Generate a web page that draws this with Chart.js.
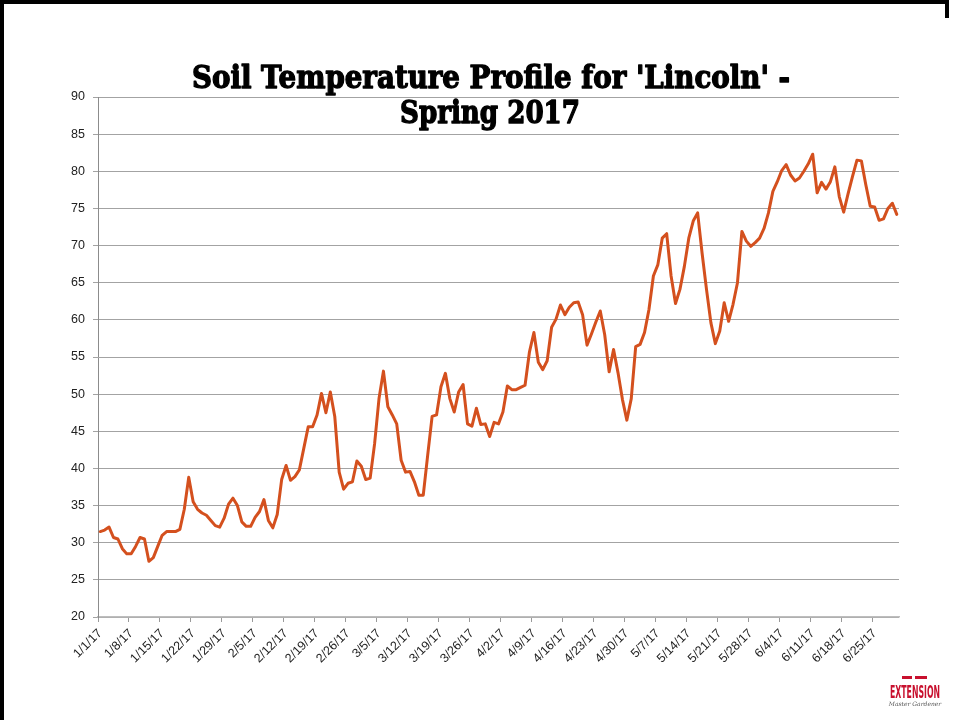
<!DOCTYPE html>
<html>
<head>
<meta charset="utf-8">
<script src="https://cdn.jsdelivr.net/npm/chart.js@4.4.1/dist/chart.umd.min.js"></script>
<style>
  html, body { margin: 0; padding: 0; background: #fff; }
  canvas { display: block; }
</style>
</head>
<body>
<canvas id="chart" width="954" height="720"></canvas>
<script>
// daily soil temperature, 1/1/17 .. 6/30/17
const temps = [
  31.5, 31.7, 32.1, 30.7, 30.5, 29.2, 28.5, 28.5, 29.5, 30.7,
  30.5, 27.5, 28.0, 29.5, 31.0, 31.5, 31.5, 31.5, 31.8, 34.5,
  38.8, 35.5, 34.5, 34.0, 33.7, 33.0, 32.3, 32.1, 33.3, 35.2,
  36.0, 35.0, 32.8, 32.2, 32.2, 33.4, 34.2, 35.8, 33.0, 32.0,
  33.8, 38.5, 40.4, 38.4, 38.9, 39.8, 42.7, 45.6, 45.6, 47.2,
  50.1, 47.5, 50.3, 47.0, 39.5, 37.2, 38.0, 38.2, 41.0, 40.3,
  38.5, 38.7, 43.3, 49.4, 53.1, 48.3, 47.2, 46.0, 41.1, 39.5,
  39.6, 38.2, 36.4, 36.4, 41.8, 47.0, 47.2, 51.0, 52.8, 49.4,
  47.6, 50.3, 51.3, 46.0, 45.7, 48.1, 45.9, 46.0, 44.3, 46.2,
  46.0, 47.6, 51.1, 50.6, 50.6, 50.9, 51.2, 55.7, 58.3, 54.3,
  53.3, 54.5, 59.0, 60.1, 62.0, 60.7, 61.7, 62.3, 62.4, 60.7,
  56.6, 58.1, 59.7, 61.2, 58.0, 53.0, 56.0, 52.9, 49.3, 46.5,
  49.4, 56.4, 56.7, 58.3, 61.4, 65.9, 67.4, 71.0, 71.6, 65.9,
  62.2, 64.1, 67.2, 71.0, 73.3, 74.4, 69.0, 64.1, 59.6, 56.8,
  58.5, 62.3, 59.8, 62.1, 65.0, 71.9, 70.6, 69.9, 70.4, 71.0,
  72.3, 74.4, 77.3, 78.6, 80.1, 80.9, 79.5, 78.7, 79.1, 80.0,
  81.0, 82.3, 77.1, 78.5, 77.6, 78.6, 80.6, 76.6, 74.5, 77.0,
  79.3, 81.5, 81.4, 78.2, 75.3, 75.2, 73.4, 73.6, 75.0, 75.7,
  74.2
];

const tickLabels = [
  "1/1/17", "1/8/17", "1/15/17", "1/22/17", "1/29/17", "2/5/17", "2/12/17",
  "2/19/17", "2/26/17", "3/5/17", "3/12/17", "3/19/17", "3/26/17", "4/2/17",
  "4/9/17", "4/16/17", "4/23/17", "4/30/17", "5/7/17", "5/14/17", "5/21/17",
  "5/28/17", "6/4/17", "6/11/17", "6/18/17", "6/25/17"
];

const yTicks = [20, 25, 30, 35, 40, 45, 50, 55, 60, 65, 70, 75, 80, 85, 90];

const titleLines = ["Soil Temperature Profile for 'Lincoln' -", "Spring 2017"];

// one category per day
const days = [];
for (let i = 0; i < temps.length; i++) {
  const d = new Date(2017, 0, 1 + i);
  days.push((d.getMonth() + 1) + "/" + d.getDate() + "/17");
}

// title, slide frame and logo drawn on top
const decorations = {
  id: "decorations",
  afterDraw(chart) {
    const ctx = chart.ctx;
    ctx.save();

    ctx.fillStyle = "#000";
    ctx.fillRect(0, 0, 4, 720);
    ctx.fillRect(0, 0, 949, 4);
    ctx.fillRect(945, 0, 4, 18);

    ctx.fillStyle = "#000";
    ctx.strokeStyle = "#000";
    ctx.lineWidth = 1.4;
    ctx.lineJoin = "round";
    ctx.textAlign = "center";
    ctx.textBaseline = "alphabetic";
    ctx.font = 'bold 32px "DejaVu Serif"';
    const widths = [598, 180];
    const baselines = [88, 123];
    const cx = [491, 490];
    titleLines.forEach((t, i) => {
      const w = ctx.measureText(t).width;
      ctx.save();
      ctx.translate(cx[i], baselines[i]);
      ctx.scale(widths[i] / w, 1);
      ctx.fillText(t, 0, 0);
      ctx.strokeText(t, 0, 0);
      ctx.restore();
    });

    // extension logo
    ctx.fillStyle = "#c8102e";
    ctx.fillRect(902, 676, 10, 3);
    ctx.fillRect(915, 676, 12, 3);
    ctx.font = 'bold 18px "DejaVu Sans"';
    let w = ctx.measureText("EXTENSION").width;
    ctx.save();
    ctx.translate(915, 698);
    ctx.scale(50 / w, 1);
    ctx.fillText("EXTENSION", 0, 0);
    ctx.restore();
    ctx.fillStyle = "#555";
    ctx.font = 'italic 6px "DejaVu Serif"';
    ctx.fillText("Master Gardener", 915, 706);

    ctx.restore();
  }
};

const ctx = document.getElementById("chart").getContext("2d");

new Chart(ctx, {
  type: "line",
  data: {
    labels: days,
    datasets: [{
      data: temps,
      borderColor: "#d4501e",
      borderWidth: 3,
      pointRadius: 0,
      tension: 0,
      borderJoinStyle: "round",
      borderCapStyle: "round"
    }]
  },
  options: {
    responsive: false,
    animation: false,
    layout: { padding: { top: 97, right: 55, bottom: 0, left: 0 } },
    plugins: {
      legend: { display: false },
      tooltip: { enabled: false },
      title: { display: false }
    },
    scales: {
      x: {
        type: "category",
        offset: true,
        grid: {
          offset: true,
          drawOnChartArea: false,
          drawTicks: true,
          tickLength: 5,
          color: c => (c.index < days.length && tickLabels.includes(days[c.index])) ? "#9a9a9a" : "rgba(0,0,0,0)"
        },
        border: { color: "#bdbdbd", width: 1.5 },
        ticks: {
          autoSkip: false,
          maxRotation: 45,
          minRotation: 45,
          padding: 4,
          color: "#222",
          font: { family: "Liberation Sans", size: 12.5 },
          callback: function (v) {
            const l = this.getLabelForValue(v);
            return tickLabels.includes(l) ? l : "";
          }
        },
        afterFit: s => { s.height = 103; }
      },
      y: {
        min: 20,
        max: 90,
        afterBuildTicks: s => { s.ticks = yTicks.map(v => ({ value: v })); },
        grid: { color: "#a3a3a3", tickLength: 5, lineWidth: 1 },
        border: { color: "#8c8c8c", width: 1 },
        ticks: {
          padding: 8,
          color: "#222",
          font: { family: "Liberation Sans", size: 12.5 }
        },
        afterFit: s => { s.width = 98; }
      }
    }
  },
  plugins: [decorations]
});
</script>
</body>
</html>
